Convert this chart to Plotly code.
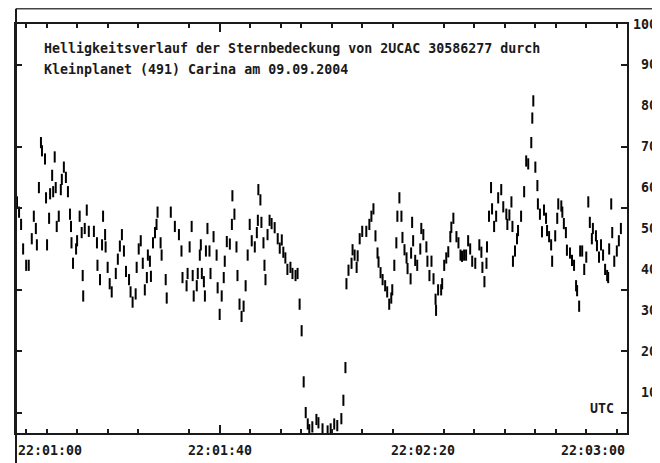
import plotly.graph_objects as go

# time in seconds after 22:01:00 UTC, brightness (relative units)
t_sec = [
    0.2, 0.6, 1.0, 1.4, 2.0, 2.5, 3.1, 3.5, 3.9, 4.1, 4.5, 4.9, 5.1, 5.7, 5.9, 6.1, 6.5, 6.7, 7.1, 7.3,
    7.6, 7.8, 8.0, 8.4, 8.8, 9.0, 9.4, 9.8, 10.2, 10.6, 10.8, 10.9, 11.2, 11.8, 12.0, 12.5, 12.9, 13.1, 13.2, 13.5,
    13.9, 14.3, 15.3, 15.9, 16.0, 16.5, 16.9, 17.1, 17.5, 17.6, 18.0, 18.4, 18.8, 19.6, 20.0, 20.4, 20.8, 21.2, 21.6, 22.2,
    22.5, 22.9, 23.5, 23.7, 24.1, 24.5, 24.9, 25.3, 25.7, 25.9, 26.3, 26.5, 26.9, 27.3, 27.6, 27.8, 28.4, 28.6, 29.4, 29.6,
    30.4, 31.2, 32.0, 32.5, 32.7, 33.5, 33.7, 34.1, 34.5, 34.7, 34.9, 35.5, 35.7, 36.1, 36.3, 36.5, 36.9, 37.1, 37.3, 37.6,
    38.0, 38.2, 38.8, 39.4, 39.6, 40.0, 40.4, 40.8, 41.0, 41.4, 42.0, 42.4, 42.5, 42.9, 43.3, 43.5, 43.9, 44.3, 44.7, 45.1,
    45.5, 45.9, 46.3, 46.9, 47.3, 47.5, 47.6, 48.0, 48.2, 48.6, 48.8, 49.0, 49.4, 49.8, 50.2, 50.8, 51.4, 51.8, 52.2, 52.5,
    52.9, 53.3, 53.9, 54.3, 54.9, 55.3, 55.7, 56.1, 56.5, 56.9, 57.3, 57.6, 58.2, 59.0,
    59.4, 60.2, 61.2, 61.8, 62.5, 63.1, 63.9, 64.3, 64.7, 64.9, 65.3, 65.9, 66.1, 66.5, 66.9, 67.1, 67.5, 68.0, 68.8, 69.4,
    69.8, 70.2, 70.6, 71.0, 71.2, 71.6, 72.0, 72.5, 72.9, 73.3, 73.7, 73.9, 74.3, 74.7, 74.9, 75.3, 75.7, 75.9, 76.3, 76.7,
    76.9, 77.5, 77.6, 77.8, 78.0, 78.4, 78.8, 79.4, 79.6, 80.0, 80.6, 80.8, 81.2, 81.6, 82.0, 82.4, 82.5, 82.9, 83.5, 83.7,
    84.1, 84.5, 84.9, 85.3, 85.5, 85.9, 86.5, 86.9, 87.3, 87.6, 88.0, 88.4, 88.8,
    89.2, 89.6, 90.2, 91.0, 91.4, 91.6, 92.0, 92.4, 92.5, 92.9, 93.3, 93.5, 93.9, 94.3, 94.7, 95.3, 95.7, 96.3, 96.5, 96.9,
    97.3, 97.5, 97.6, 98.0, 98.4, 98.6, 99.2, 99.8, 100.2, 100.6, 101.2, 101.4, 101.6, 102.0, 102.4, 102.5, 102.9, 103.3, 103.7, 104.1,
    104.3, 104.7, 105.1, 105.3, 105.9, 106.3, 106.5, 107.1, 107.3, 107.6, 108.0, 108.2, 108.8, 109.2, 109.6, 110.0, 110.2, 110.6, 110.8, 111.2,
    111.6, 112.0, 112.4, 112.7, 113.1, 113.3, 113.9, 114.1, 114.5, 114.9, 115.3, 115.7, 116.1, 116.3, 116.5, 116.9, 117.1, 117.5, 118.0, 118.4,
    118.8,
]
brightness = [
    565, 540, 510, 450, 410, 410, 475, 530, 500, 460, 600, 710, 690, 670, 575, 460, 525, 585, 630, 590,
    675, 600, 505, 530, 595, 620, 650, 625, 590, 535, 505, 465, 415, 450, 470, 530, 490, 385, 335, 500,
    545, 493, 493, 465, 410, 375, 460, 530, 485, 455, 405, 365, 345, 390, 425, 457, 485, 445, 395, 375,
    345, 320, 340, 405, 450, 470, 415, 350, 380, 435, 420, 383, 465, 490, 510, 540, 465, 435, 375, 330,
    540, 505, 485, 445, 380, 360, 390, 455, 505, 385, 335, 360, 390, 435, 460, 390, 370, 335, 445, 500,
    445, 390, 480, 435, 355, 290, 335, 380, 420, 468, 462, 510, 580, 535, 455, 385, 315, 285, 310, 360,
    435, 510, 470, 455, 490, 520, 595, 570, 515, 465, 410, 375, 485, 520, 512, 502, 475, 452, 472, 442,
    428, 400, 405, 390, 385, 390, 315, 250, 125, 50, 22, 8, 15, 33,
    25, 10, 5, 10, 22, 18, 35, 80, 160, 365, 398, 415, 448, 435, 405, 433, 475, 493, 493, 510,
    530, 548, 482, 440, 418, 392, 375, 360, 345, 315, 330, 350, 410, 465, 530, 575, 530, 478, 448, 428,
    402, 377, 440, 515, 470, 422, 410, 450, 500, 485, 455, 420, 385, 420, 377, 327, 300, 350, 350, 365,
    410, 428, 443, 480, 503, 525, 480, 465, 435, 432, 435, 435, 470,
    450, 420, 415, 460, 442, 405, 370, 415, 455, 530, 600, 548, 505, 530, 575, 595, 553, 535, 510, 533,
    565, 505, 420, 445, 475, 495, 530, 590, 665, 658, 710, 770, 812, 650, 605, 560, 535, 492, 545, 525,
    495, 480, 460, 420, 482, 525, 560, 555, 540, 512, 490, 447, 440, 422, 410, 360, 348, 310, 445, 445,
    400, 430, 565, 515, 475, 500, 482, 458, 430, 460, 435, 400, 385, 380, 450, 560, 490, 420, 445, 470,
    500,
]

x_minor_ticks = [2, 6, 12, 18, 24, 34, 46, 52, 56, 62, 68, 74, 84, 90, 96, 102, 106, 112, 118]
x_major_ticks = [40]
x_label_pos = [0, 40, 80, 120]
x_labels = ["22:01:00", "22:01:40", "22:02:20", "22:03:00"]
x_label_anchor = ["left", "center", "center", "right"]

y_ticks = [50, 200, 350, 550, 700, 900]
y_label_vals = [1000, 900, 800, 700, 600, 500, 400, 300, 200, 100, 0]
y_labels = ["1000", "900", "800", "700", "600", "500", "400", "300", "200", "100", "0"]

title_lines = [
    "Helligkeitsverlauf der Sternbedeckung von 2UCAC 30586277 durch",
    "Kleinplanet (491) Carina am 09.09.2004",
]

FONT = "DejaVu Sans Mono"
INK = "#1a1a1a"
FSIZE = 13.3

fig = go.Figure()
fig.add_trace(go.Scatter(
    x=t_sec, y=brightness, mode="markers",
    marker=dict(symbol="line-ns", size=8, line=dict(width=2, color="#000000")),
    hoverinfo="skip", showlegend=False,
))
# invisible trace for the overlay axis carrying the major tick
fig.add_trace(go.Scatter(x=[0], y=[0], xaxis="x2", mode="markers",
                         marker=dict(opacity=0), showlegend=False, hoverinfo="skip"))

# page body has an 8px margin: figure is 652x455 placed at (8, 8)
# plot area then spans page x 16..627 and y 24..433
fig.update_layout(
    width=652, height=455,
    margin=dict(l=8, r=33, t=16, b=30),
    paper_bgcolor="white", plot_bgcolor="white",
    xaxis=dict(range=[0, 120], showgrid=False, zeroline=False, showline=True,
               linecolor=INK, linewidth=2, mirror="ticks", ticks="inside",
               tickvals=x_minor_ticks, ticklen=4, tickwidth=1.5, tickcolor=INK,
               showticklabels=False),
    xaxis2=dict(range=[0, 120], overlaying="x", anchor="y", showgrid=False,
                zeroline=False, showline=False, mirror="ticks", ticks="inside",
                tickvals=x_major_ticks, ticklen=8, tickwidth=1.5, tickcolor=INK,
                showticklabels=False),
    yaxis=dict(range=[0, 1000], showgrid=False, zeroline=False, showline=True,
               linecolor=INK, linewidth=2, mirror="ticks", ticks="inside",
               tickvals=y_ticks, ticklen=6, tickwidth=1.5, tickcolor=INK,
               showticklabels=False),
)

# outer frame lines (top border and extended left border)
fig.add_shape(type="line", xref="paper", yref="paper", x0=0, x1=1.06, y0=1.037, y1=1.037,
              line=dict(color="#444444", width=1.5))
fig.add_shape(type="line", xref="paper", yref="paper", x0=0, x1=0, y0=1.037, y1=-0.08,
              line=dict(color=INK, width=2))

# title text inside plot
for i, line in enumerate(title_lines):
    fig.add_annotation(text=line, xref="paper", yref="paper", x=0.0426, y=0.941 - i * 0.0525,
                       xanchor="left", yanchor="middle", showarrow=False,
                       font=dict(family=FONT, size=FSIZE, color=INK, weight="bold"))

fig.add_annotation(text="UTC", xref="paper", yref="paper", x=0.936, y=0.0587,
                   xanchor="left", yanchor="middle", showarrow=False,
                   font=dict(family=FONT, size=FSIZE, color=INK, weight="bold"))

for pos, lab, anc in zip(x_label_pos, x_labels, x_label_anchor):
    fig.add_annotation(text=lab, xref="x", yref="paper", x=pos, y=-0.042,
                       xanchor=anc, yanchor="middle", showarrow=False,
                       font=dict(family=FONT, size=FSIZE, color=INK, weight="bold"))

for val, lab in zip(y_label_vals, y_labels):
    fig.add_annotation(text=lab, xref="paper", yref="y", x=1.0655, y=val,
                       xanchor="right", yanchor="middle", showarrow=False,
                       font=dict(family=FONT, size=FSIZE, color=INK, weight="bold"))

fig.write_html("out.html", config={"displayModeBar": False})
